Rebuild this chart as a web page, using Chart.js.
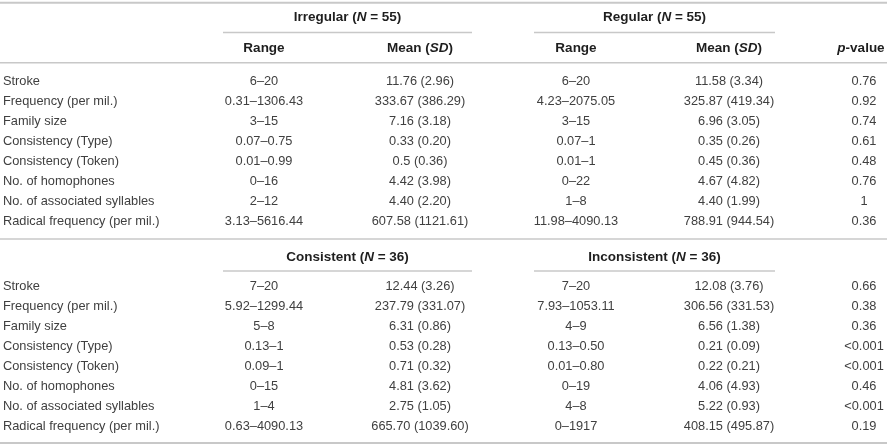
<!DOCTYPE html>
<html>
<head>
<meta charset="utf-8">
<script src="https://cdn.jsdelivr.net/npm/chart.js@4/dist/chart.umd.min.js"></script>
<style>
    html, body { margin: 0; padding: 0; background: #fff; }
    canvas { display: block; }
</style>
</head>
<body>
<canvas id="tabela" width="887" height="446"></canvas>
<script>
// Variáveis (linhas da tabela)
const variaveis = [
    'Stroke',
    'Frequency (per mil.)',
    'Family size',
    'Consistency (Type)',
    'Consistency (Token)',
    'No. of homophones',
    'No. of associated syllables',
    'Radical frequency (per mil.)'
];

// Bloco 1: Irregular x Regular
const grupo1 = { nome: 'Irregular', n: 55 };
const grupo2 = { nome: 'Regular', n: 55 };
const irregularRange = ['6–20', '0.31–1306.43', '3–15', '0.07–0.75', '0.01–0.99', '0–16', '2–12', '3.13–5616.44'];
const irregularMean = ['11.76 (2.96)', '333.67 (386.29)', '7.16 (3.18)', '0.33 (0.20)', '0.5 (0.36)', '4.42 (3.98)', '4.40 (2.20)', '607.58 (1121.61)'];
const regularRange = ['6–20', '4.23–2075.05', '3–15', '0.07–1', '0.01–1', '0–22', '1–8', '11.98–4090.13'];
const regularMean = ['11.58 (3.34)', '325.87 (419.34)', '6.96 (3.05)', '0.35 (0.26)', '0.45 (0.36)', '4.67 (4.82)', '4.40 (1.99)', '788.91 (944.54)'];
const pRegularidade = ['0.76', '0.92', '0.74', '0.61', '0.48', '0.76', '1', '0.36'];

// Bloco 2: Consistent x Inconsistent
const grupo3 = { nome: 'Consistent', n: 36 };
const grupo4 = { nome: 'Inconsistent', n: 36 };
const consistentRange = ['7–20', '5.92–1299.44', '5–8', '0.13–1', '0.09–1', '0–15', '1–4', '0.63–4090.13'];
const consistentMean = ['12.44 (3.26)', '237.79 (331.07)', '6.31 (0.86)', '0.53 (0.28)', '0.71 (0.32)', '4.81 (3.62)', '2.75 (1.05)', '665.70 (1039.60)'];
const inconsistentRange = ['7–20', '7.93–1053.11', '4–9', '0.13–0.50', '0.01–0.80', '0–19', '4–8', '0–1917'];
const inconsistentMean = ['12.08 (3.76)', '306.56 (331.53)', '6.56 (1.38)', '0.21 (0.09)', '0.22 (0.21)', '4.06 (4.93)', '5.22 (0.93)', '408.15 (495.87)'];
const pConsistencia = ['0.66', '0.38', '0.36', '<0.001', '<0.001', '0.46', '<0.001', '0.19'];

// Cabeçalhos das colunas
const cabecalhos = ['Range', 'Mean (SD)', 'Range', 'Mean (SD)', 'p-value'];

// Layout (posição das colunas no eixo x, em px da tabela; linhas em "unidades de linha")
const colunasX = [3, 264, 420, 576, 729, 864];
const cabecalhosX = [264, 420, 576, 729, 861];
const inicioBloco2 = 10.22;
const fonteCorpo = '12.8px "Liberation Sans", Arial, sans-serif';
const fonteNegrito = 'bold 13.5px "Liberation Sans", Arial, sans-serif';
const fonteNegritoItalico = 'italic bold 13.5px "Liberation Sans", Arial, sans-serif';

const colunasBloco1 = [variaveis, irregularRange, irregularMean, regularRange, regularMean, pRegularidade];
const colunasBloco2 = [variaveis, consistentRange, consistentMean, inconsistentRange, inconsistentMean, pConsistencia];

// Cada coluna vira um dataset: os textos ficam nos pontos (raio 0)
const datasets = colunasX.map((cx, c) => {
    const pontos = [];
    const textos = [];
    colunasBloco1[c].forEach((t, i) => { pontos.push({ x: cx, y: i }); textos.push(t); });
    colunasBloco2[c].forEach((t, i) => { pontos.push({ x: cx, y: inicioBloco2 + i }); textos.push(t); });
    return { data: pontos, textos: textos, alinhamento: c === 0 ? 'left' : 'center', pointRadius: 0 };
});

// Desenha texto com partes em itálico (ex.: N, SD, p)
function textoMisto(ctx, partes, x, y) {
    let total = 0;
    partes.forEach(p => { ctx.font = p.it ? fonteNegritoItalico : fonteNegrito; total += ctx.measureText(p.t).width; });
    let px = x - total / 2;
    ctx.textAlign = 'left';
    partes.forEach(p => {
        ctx.font = p.it ? fonteNegritoItalico : fonteNegrito;
        ctx.fillText(p.t, px, y);
        px += ctx.measureText(p.t).width;
    });
}

const pluginTabela = {
    id: 'tabela',
    afterDatasetsDraw(chart) {
        const ctx = chart.ctx;
        const sx = chart.scales.x;
        const sy = chart.scales.y;
        ctx.save();

        // Linhas horizontais
        ctx.strokeStyle = '#c8c8c8';
        const linha = (v, x0, x1, w) => {
            const py = sy.getPixelForValue(v);
            ctx.lineWidth = w;
            ctx.beginPath();
            ctx.moveTo(sx.getPixelForValue(x0), py);
            ctx.lineTo(sx.getPixelForValue(x1), py);
            ctx.stroke();
        };
        linha(-3.93, 0, 887, 2);
        linha(-2.45, 223, 472, 1.5);
        linha(-2.45, 534, 775, 1.5);
        linha(-0.94, 0, 887, 1.5);
        linha(7.86, 0, 887, 1.5);
        linha(9.45, 223, 472, 1.5);
        linha(9.45, 534, 775, 1.5);
        linha(18.03, 0, 887, 2);

        // Cabeçalhos
        ctx.fillStyle = '#1e1e1e';
        ctx.textBaseline = 'middle';
        const meioA = sx.getPixelForValue((223 + 472) / 2);
        const meioB = sx.getPixelForValue((534 + 775) / 2);
        const grupoTitulo = g => [{ t: g.nome + ' (' }, { t: 'N', it: true }, { t: ' = ' + g.n + ')' }];
        textoMisto(ctx, grupoTitulo(grupo1), meioA, sy.getPixelForValue(-3.22));
        textoMisto(ctx, grupoTitulo(grupo2), meioB, sy.getPixelForValue(-3.22));
        textoMisto(ctx, grupoTitulo(grupo3), meioA, sy.getPixelForValue(8.75));
        textoMisto(ctx, grupoTitulo(grupo4), meioB, sy.getPixelForValue(8.75));
        cabecalhos.forEach((h, i) => {
            const px = sx.getPixelForValue(cabecalhosX[i]);
            const py = sy.getPixelForValue(-1.66);
            if (h === 'Mean (SD)') textoMisto(ctx, [{ t: 'Mean (' }, { t: 'SD', it: true }, { t: ')' }], px, py);
            else if (h === 'p-value') textoMisto(ctx, [{ t: 'p', it: true }, { t: '-value' }], px, py);
            else textoMisto(ctx, [{ t: h }], px, py);
        });

        // Células
        ctx.fillStyle = '#404040';
        ctx.font = fonteCorpo;
        chart.data.datasets.forEach((ds, d) => {
            const meta = chart.getDatasetMeta(d);
            ctx.textAlign = ds.alinhamento;
            meta.data.forEach((el, i) => {
                ctx.fillText(ds.textos[i], el.x, el.y);
            });
        });
        ctx.restore();
    }
};

new Chart(document.getElementById('tabela').getContext('2d'), {
    type: 'scatter',
    data: { datasets: datasets },
    options: {
        responsive: false,
        animation: false,
        layout: { padding: 0 },
        plugins: { legend: { display: false }, tooltip: { enabled: false } },
        scales: {
            x: { type: 'linear', display: false, min: 0, max: 887 },
            y: { type: 'linear', display: false, reverse: true, min: -4.065, max: 18.18 }
        }
    },
    plugins: [pluginTabela]
});
</script>
</body>
</html>
